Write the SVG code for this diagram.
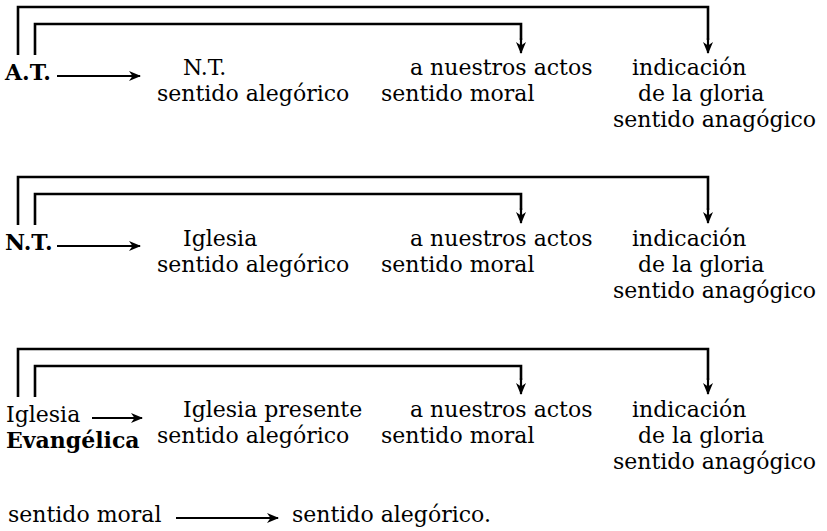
<svg xmlns="http://www.w3.org/2000/svg" width="827" height="531" viewBox="0 0 827 531">
<defs>
<marker id="ah" viewBox="0 0 12 10" refX="11" refY="5" markerWidth="12" markerHeight="10" markerUnits="userSpaceOnUse" orient="auto">
<path d="M0,0 L12,5 L0,10 L3.5,5 z" fill="#000"/>
</marker>
</defs>
<style>
text{font-family:"DejaVu Serif","Liberation Serif",serif;font-size:22px;fill:#000}
.b{font-weight:bold}
.ln{fill:none;stroke:#000;stroke-width:2.6}
.ar{fill:none;stroke:#000;stroke-width:2.2}
</style>
<rect width="827" height="531" fill="#fff"/>
<g id="connectors">
<path class="ln" d="M18,55 V7 H708 V40"/>
<path class="ln" d="M35,55 V24 H521 V40"/>
<path class="ar" d="M708,38 V53" marker-end="url(#ah)"/>
<path class="ar" d="M521,38 V53" marker-end="url(#ah)"/>
<path class="ar" d="M57,76 H140" marker-end="url(#ah)"/>

<path class="ln" d="M18,225 V177 H708 V210"/>
<path class="ln" d="M35,225 V194 H521 V210"/>
<path class="ar" d="M708,208 V223" marker-end="url(#ah)"/>
<path class="ar" d="M521,208 V223" marker-end="url(#ah)"/>
<path class="ar" d="M57,246 H140" marker-end="url(#ah)"/>

<path class="ln" d="M18,397 V349 H708 V380"/>
<path class="ln" d="M35,397 V366 H521 V380"/>
<path class="ar" d="M708,378 V394" marker-end="url(#ah)"/>
<path class="ar" d="M521,378 V394" marker-end="url(#ah)"/>
<path class="ar" d="M92,418 H142" marker-end="url(#ah)"/>

<path class="ar" d="M176,518 H278" marker-end="url(#ah)"/>
</g>
<g id="block1">
<text class="b" x="5" y="80">A.T.</text>
<text x="183" y="75">N.T.</text>
<text x="157" y="101">sentido alegórico</text>
<text x="410" y="75">a nuestros actos</text>
<text x="381" y="101">sentido moral</text>
<text x="632" y="75">indicación</text>
<text x="638" y="101">de la gloria</text>
<text x="613" y="127">sentido anagógico</text>
</g>
<g id="block2">
<text class="b" x="5" y="250">N.T.</text>
<text x="183" y="246">Iglesia</text>
<text x="157" y="272">sentido alegórico</text>
<text x="410" y="246">a nuestros actos</text>
<text x="381" y="272">sentido moral</text>
<text x="632" y="246">indicación</text>
<text x="638" y="272">de la gloria</text>
<text x="613" y="298">sentido anagógico</text>
</g>
<g id="block3">
<text x="6" y="422">Iglesia</text>
<text class="b" x="6" y="448">Evangélica</text>
<text x="183" y="417">Iglesia presente</text>
<text x="157" y="443">sentido alegórico</text>
<text x="410" y="417">a nuestros actos</text>
<text x="381" y="443">sentido moral</text>
<text x="632" y="417">indicación</text>
<text x="638" y="443">de la gloria</text>
<text x="613" y="469">sentido anagógico</text>
</g>
<g id="bottom">
<text x="8" y="522">sentido moral</text>
<text x="292" y="522">sentido alegórico.</text>
</g>
</svg>
